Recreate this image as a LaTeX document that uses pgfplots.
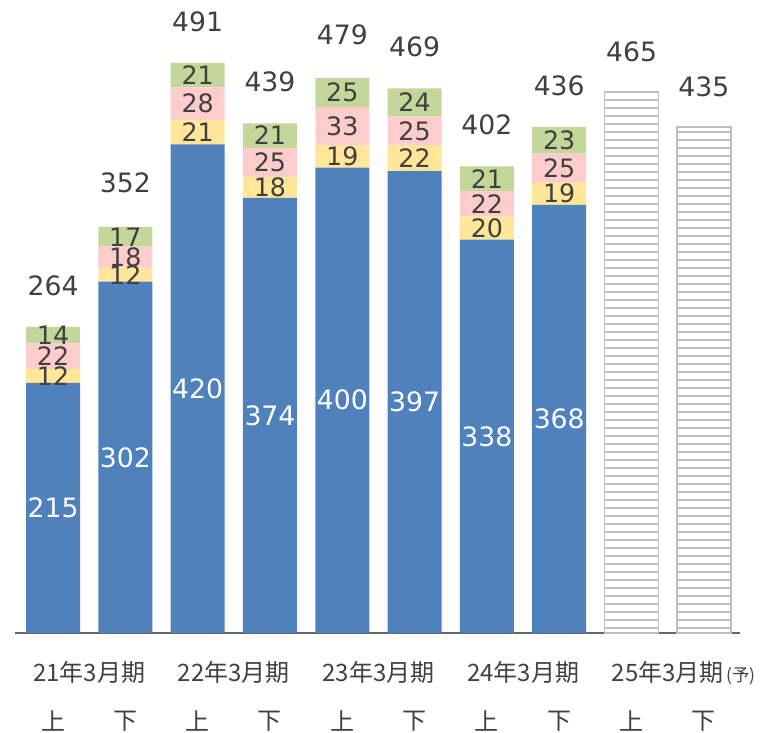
\documentclass[border=0pt]{standalone}
\usepackage{pgfplots}
\pgfplotsset{compat=1.18}
\usepackage{pgfplotstable}
\usetikzlibrary{patterns.meta}
\usepackage{fontspec}
\setmainfont{Noto Sans CJK JP}
\newfontfamily\numfont{DejaVu Sans}
\definecolor{cblue}{HTML}{4F81BD}
\definecolor{cyel}{HTML}{FFE699}
\definecolor{cpink}{HTML}{FFCCCC}
\definecolor{cgrn}{HTML}{C4D79B}
\definecolor{ctxt}{HTML}{404040}
\definecolor{chatch}{HTML}{BFBFBF}

\pgfplotstableread{
x blue yel pink grn
0 215 12 22 14
1 302 12 18 17
2 420 21 28 21
3 374 18 25 21
4 400 19 33 25
5 397 22 25 24
6 338 20 22 21
7 368 19 25 23
}\actual

\pgfplotstableread{
x fc
8 465
9 435
}\forecast

\pgfplotstableread{
x tot
0 264
1 352
2 491
3 439
4 479
5 469
6 402
7 436
8 465
9 435
}\totals

\pgfplotsset{
  common/.style={
    width=543.75pt, height=474.75pt, scale only axis,
    xmin=-0.526, xmax=9.5, ymin=0, ymax=544,
    clip=false, axis y line=none, ytick=\empty,
    xtick style={draw=none},
    /pgf/number format/assume math mode=true,
  },
  seg/.style={
    fill=#1, draw=none,
    nodes near coords, point meta=explicit,
    nodes near coords style={font=\numfont\fontsize{19pt}{22pt}\selectfont, text=ctxt, inner sep=0pt, anchor=center},
  },
}

\begin{document}
\begin{tikzpicture}
\begin{axis}[common,
  ybar stacked, bar width=0.747,
  axis x line=bottom,
  x axis line style={-, draw=ctxt!80, line width=1.2pt},
  xtick={0,...,9},
  xticklabels={上,下,上,下,上,下,上,下,上,下},
  xticklabel style={font=\fontsize{18pt}{20pt}\selectfont, text=ctxt, anchor=center, yshift=-63.75pt, inner sep=0pt},
]
\addplot[seg=cblue,
  nodes near coords style={text=white, font=\numfont\fontsize{20pt}{24pt}\selectfont}]
  table[x=x, y=blue, meta=blue] {\actual};
\addplot[seg=cyel] table[x=x, y=yel, meta=yel] {\actual};
\addplot[seg=cpink] table[x=x, y=pink, meta=pink] {\actual};
\addplot[seg=cgrn] table[x=x, y=grn, meta=grn] {\actual};
\end{axis}

\begin{axis}[common,
  axis x line=bottom,
  x axis line style={draw=none},
  xtick={0.5,2.5,4.5,6.5,8.5},
  xticklabels={21年3月期,22年3月期,23年3月期,24年3月期,{25年3月期\rlap{\fontsize{13pt}{14pt}\selectfont\,(予)}}},
  xticklabel style={font=\fontsize{18pt}{20pt}\selectfont, text=ctxt, anchor=center, yshift=-27.75pt, inner sep=0pt},
]
\addplot[ybar, bar width=0.747, bar shift=0pt, fill=white, draw=chatch, line width=1.2pt,
  postaction={pattern={Lines[angle=0, distance=6pt, line width=1pt]}, pattern color=chatch}]
  table[x=x, y=fc] {\forecast};
\addplot[draw=none, mark=none, nodes near coords, point meta=explicit,
  nodes near coords style={font=\numfont\fontsize{20pt}{24pt}\selectfont, text=ctxt, inner sep=0pt, anchor=base, yshift=23pt}]
  table[x=x, y=tot, meta=tot] {\totals};
\end{axis}
\pgfresetboundingbox
\path (-11.25pt,-74.25pt) rectangle (576.75pt,474.75pt);
\end{tikzpicture}
\end{document}
